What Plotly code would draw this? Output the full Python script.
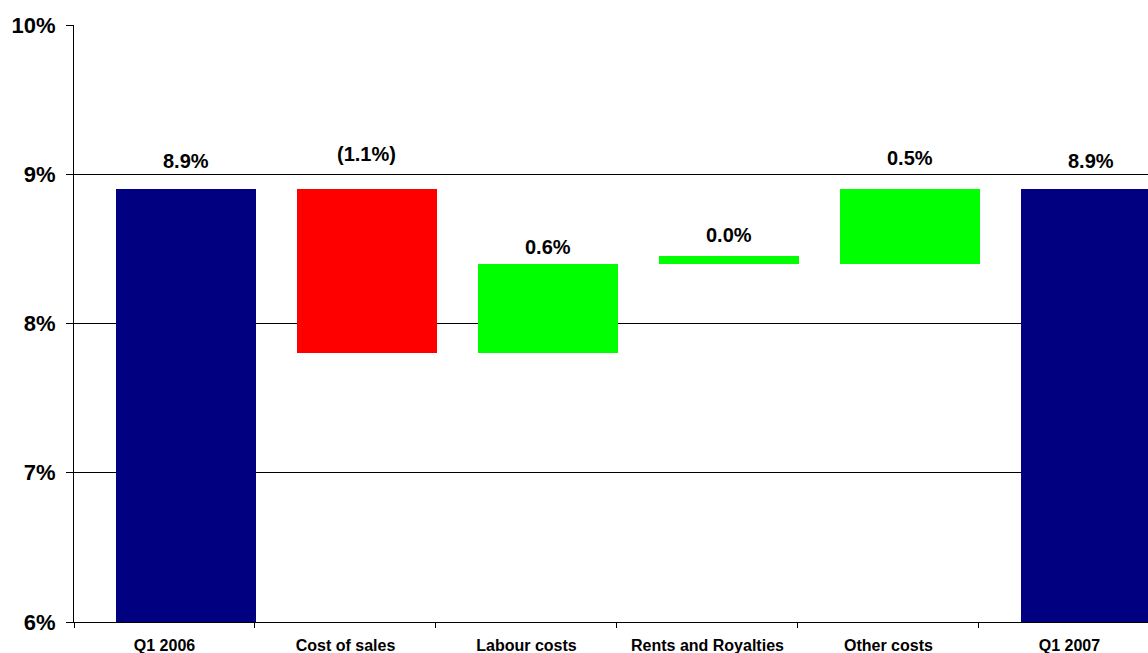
import plotly.graph_objects as go

categories = ["Q1 2006", "Cost of sales", "Labour costs", "Rents and Royalties", "Other costs", "Q1 2007"]
bar_bottom = [6.0, 7.8, 7.8, 8.4, 8.4, 6.0]
bar_top = [8.9, 8.9, 8.4, 8.45, 8.9, 8.9]
labels = ["8.9%", "(1.1%)", "0.6%", "0.0%", "0.5%", "8.9%"]
colors = ["#000080", "#FF0000", "#00FF00", "#00FF00", "#00FF00", "#000080"]
y_ticks = [6, 7, 8, 9, 10]
y_ticktext = ["6%", "7%", "8%", "9%", "10%"]

FONT = "Liberation Sans, Arial, sans-serif"
BAR_OFFSET = -0.268
BAR_WIDTH = 0.773
label_shift = [28, 35, 17, 21, 31, 28]

fig = go.Figure()
fig.add_trace(go.Bar(
    x=categories,
    y=[t - b for t, b in zip(bar_top, bar_bottom)],
    base=bar_bottom,
    marker=dict(color=colors, line=dict(width=0)),
    offset=BAR_OFFSET,
    width=BAR_WIDTH,
    hoverinfo="skip",
    showlegend=False,
))

for i, (lab, top) in enumerate(zip(labels, bar_top)):
    fig.add_annotation(
        x=i + BAR_OFFSET + BAR_WIDTH / 2, y=top, text=f"<b>{lab}</b>",
        showarrow=False, yshift=label_shift[i], yanchor="middle",
        font=dict(family=FONT, size=20, color="#000000"),
    )

fig.update_layout(
    width=1148, height=653,
    margin=dict(l=74, r=0, t=25, b=31, autoexpand=False),
    paper_bgcolor="white", plot_bgcolor="white",
    bargap=0,
    font=dict(family=FONT, color="#000000"),
)
fig.update_xaxes(
    type="category",
    range=[-0.5, 5.434],
    automargin=False,
    tickson="boundaries",
    ticks="outside", ticklen=5, tickcolor="#000000", tickwidth=1,
    showline=True, linecolor="#000000", linewidth=1,
    showgrid=False,
    tickfont=dict(family=FONT, size=16, color="#000000", weight="bold"),
    ticklabelstandoff=9,
)
fig.update_yaxes(
    range=[6, 10],
    automargin=False,
    tickvals=y_ticks, ticktext=y_ticktext,
    ticks="outside", ticklen=7, tickcolor="#000000", tickwidth=1,
    showline=True, linecolor="#000000", linewidth=1,
    showgrid=True, gridcolor="#000000", gridwidth=1,
    zeroline=False,
    tickfont=dict(family=FONT, size=22, color="#000000", weight="bold"),
    ticklabelstandoff=6,
)

fig.write_html(
    "out.html",
    config={"displayModeBar": False},
    post_script="document.body.style.margin='0';document.body.style.overflow='hidden';",
)
